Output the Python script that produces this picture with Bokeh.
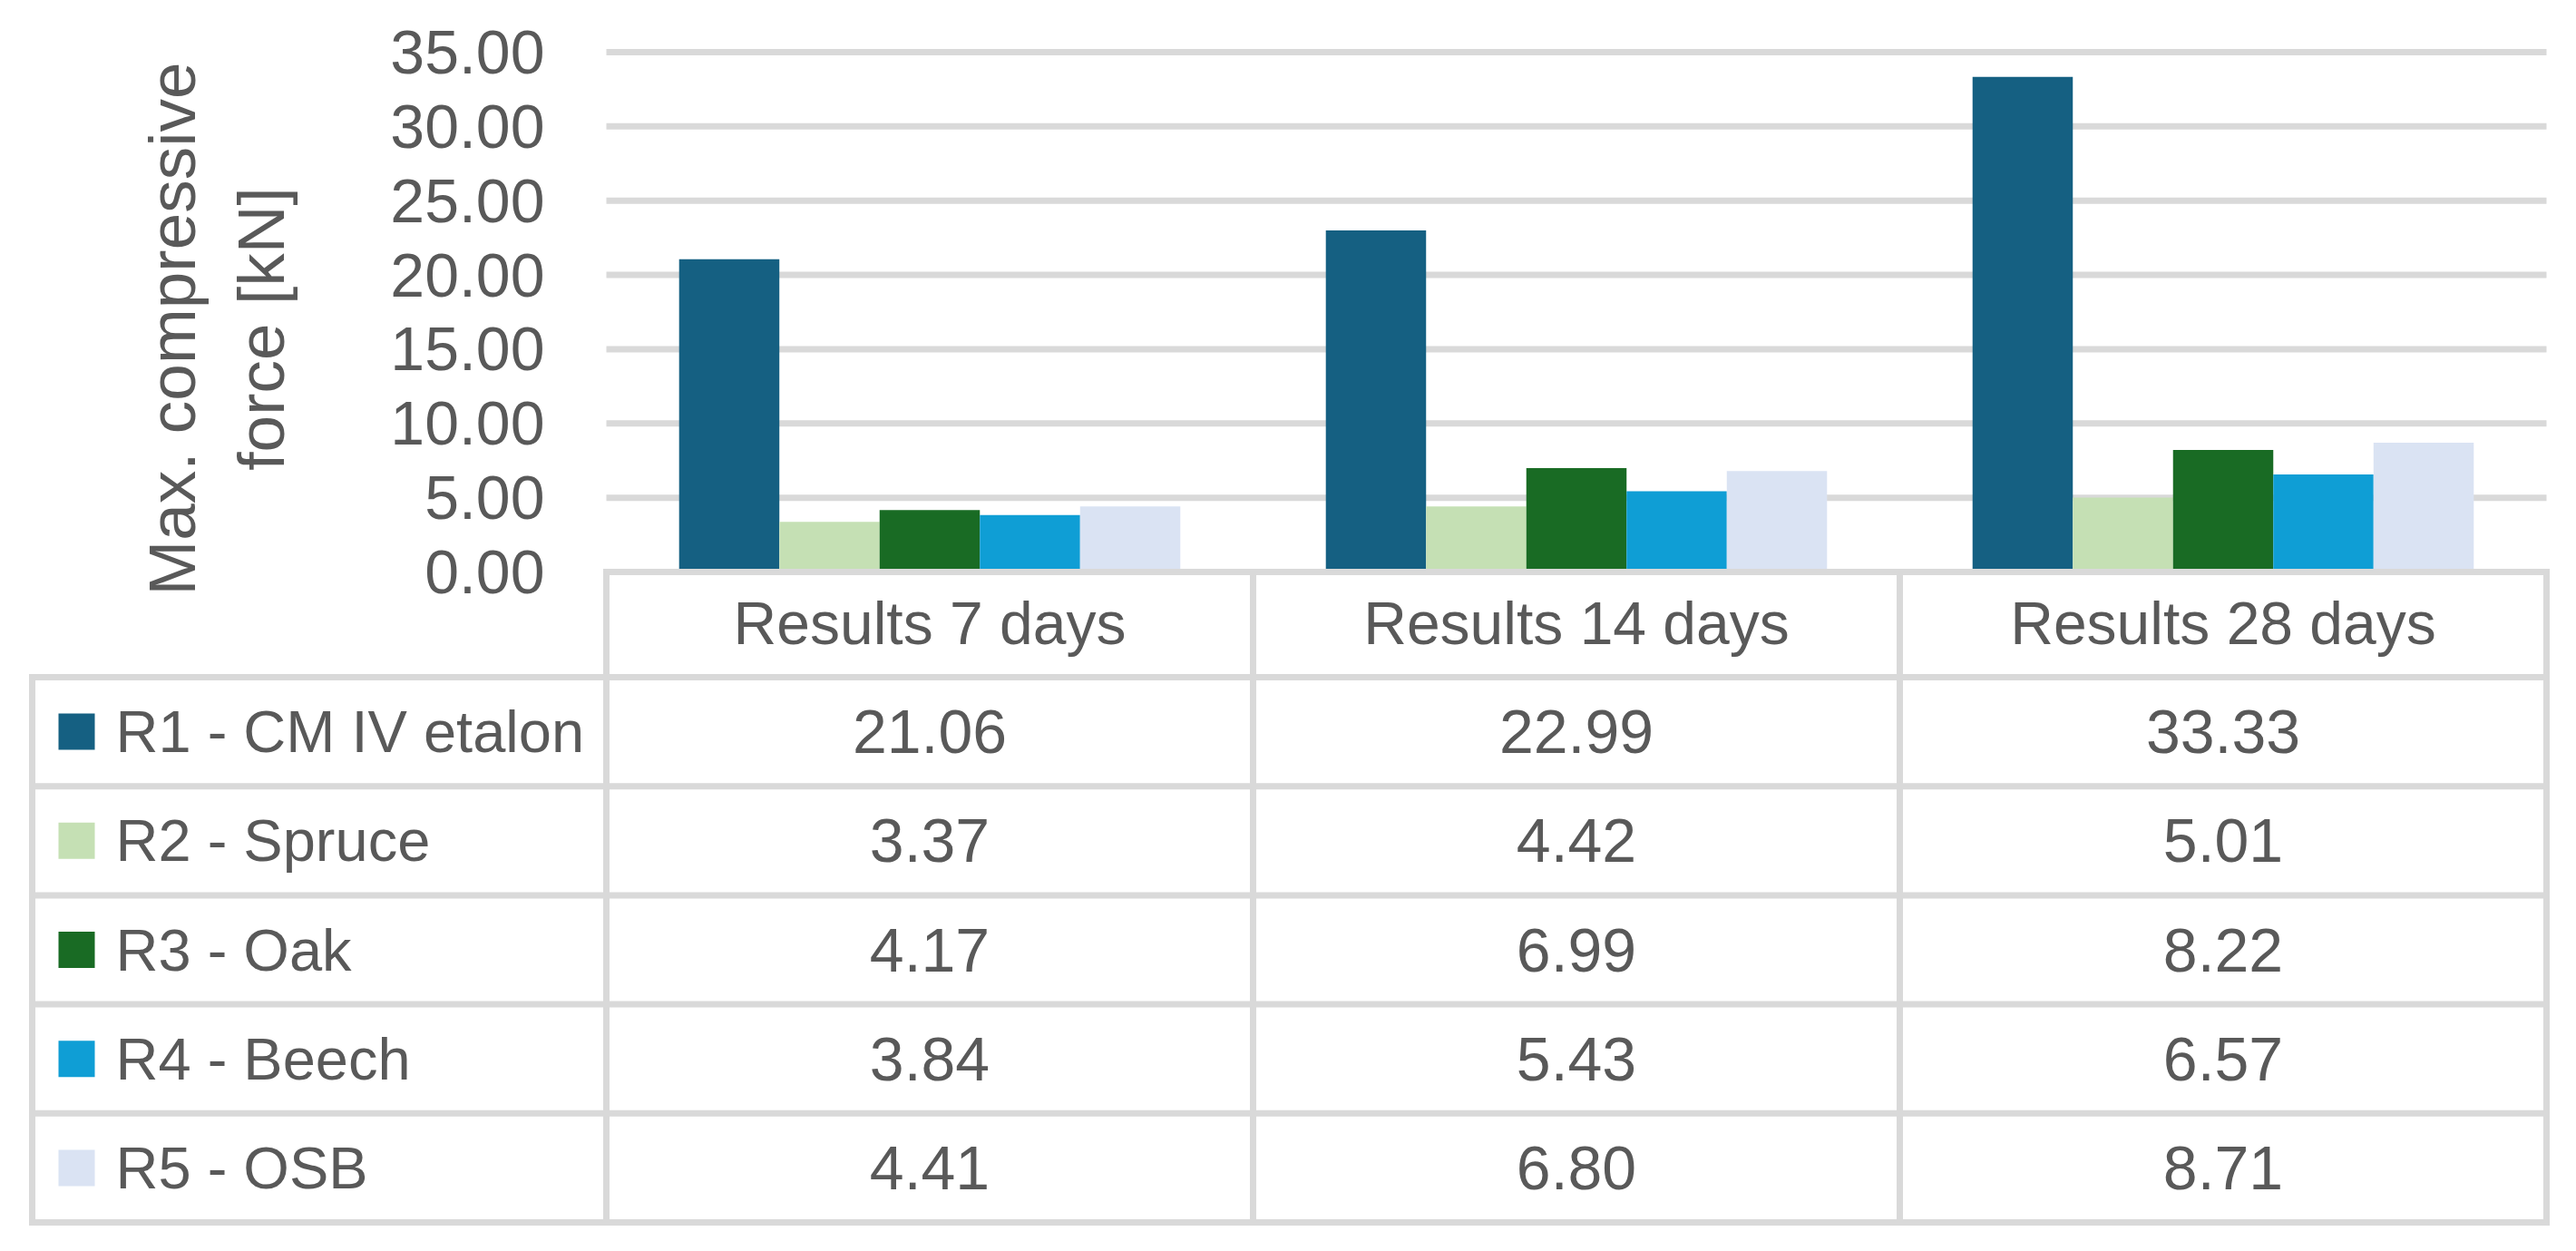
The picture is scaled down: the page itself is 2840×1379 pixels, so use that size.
from bokeh.plotting import figure
from bokeh.models import Range1d, FixedTicker, PrintfTickFormatter, LinearAxis
from bokeh.core.properties import value
from bokeh.embed import file_html
from bokeh.resources import INLINE

# ---------------- data ----------------
categories = ["Results 7 days", "Results 14 days", "Results 28 days"]
series_names = ["R1 -  CM IV etalon", "R2 - Spruce", "R3 - Oak", "R4 - Beech", "R5 - OSB"]
r1_etalon = [21.06, 22.99, 33.33]
r2_spruce = [3.37, 4.42, 5.01]
r3_oak = [4.17, 6.99, 8.22]
r4_beech = [3.84, 5.43, 6.57]
r5_osb = [4.41, 6.80, 8.71]
y_ticks = [0, 5, 10, 15, 20, 25, 30, 35]
y_label = "Max. compressive\nforce [kN]"

series_values = [r1_etalon, r2_spruce, r3_oak, r4_beech, r5_osb]

# ---------------- style / layout (page pixels) ----------------
colors = ["#156082", "#C5E0B4", "#196B24", "#0F9ED5", "#DAE3F3"]
TEXT = "#595959"
GRID = "#D9D9D9"
FONT = value("Liberation Sans")
FS_NUM = "68px"
FS_TXT = "66px"
LW = 7

W, H = 2836, 1370
F_L, F_R, F_T, F_B = 30, 2812, 0, 1352    # frame box
CHART_L, CHART_R = 668, 2807              # chart area x
Y_TOP, Y_ZERO = 57, 630                   # y of top tick and of zero
LABEL_CENTER_Y = 362                      # centre of the y-axis title
TABLE_LEFT = 35
HEADER_TOP, HEADER_BOT = 630, 746
ROW_H = 120.2
KEY_X, LABEL_X = 84, 127
BAR_W = 0.155

ncat = len(categories)
n = len(series_names)
CAT_W = (CHART_R - CHART_L) / ncat
PPU = (Y_ZERO - Y_TOP) / y_ticks[-1]


def ux(px):
    return (px - CHART_L) / CAT_W


def uy(px):
    return (Y_ZERO - px) / PPU


p = figure(
    width=W, height=H,
    x_range=Range1d(ux(F_L), ux(F_R)),
    y_range=Range1d(uy(F_B), uy(F_T)),
    x_axis_location=None, y_axis_location=None,
    output_backend="svg", toolbar_location=None,
    min_border_left=F_L, min_border_right=W - F_R,
    min_border_top=F_T, min_border_bottom=H - F_B,
)
p.outline_line_color = None
p.grid.visible = False

# axis bounds chosen so that the title is centred where the reference has it
b_lo = 2 * uy(LABEL_CENTER_Y) - y_ticks[-1]
ax = LinearAxis(fixed_location=0, bounds=(b_lo, y_ticks[-1]))
ax.ticker = FixedTicker(ticks=y_ticks)
ax.formatter = PrintfTickFormatter(format="%.2f")
ax.axis_line_color = None
ax.major_tick_line_color = None
ax.minor_tick_line_color = None
ax.major_label_standoff = 62
ax.major_label_text_font = "Liberation Sans"
ax.major_label_text_font_size = FS_NUM
ax.major_label_text_color = TEXT
ax.axis_label = y_label
ax.axis_label_text_font = "Liberation Sans"
ax.axis_label_text_font_size = "73px"
ax.axis_label_text_font_style = "normal"
ax.axis_label_text_color = TEXT
ax.axis_label_standoff = 99
ax.axis_label_text_line_height = 1.22
p.add_layout(ax, "left")

# gridlines (behind bars)
g = y_ticks[1:]
p.segment(x0=[0] * len(g), y0=g, x1=[ncat] * len(g), y1=g, line_color=GRID, line_width=LW)

# bars
for i, (vals, col) in enumerate(zip(series_values, colors)):
    off = (i - (n - 1) / 2) * BAR_W
    p.vbar(x=[k + 0.5 + off for k in range(ncat)], top=vals, bottom=0, width=BAR_W,
           fill_color=col, line_color=None)

# zero line (over bars)
p.segment(x0=[0], y0=[y_ticks[0]], x1=[ncat], y1=[y_ticks[0]], line_color=GRID,
          line_width=LW, line_cap="square")

# ---------------- data table ----------------
rows_px = [HEADER_BOT + k * ROW_H for k in range(n + 1)]
rows_y = [uy(r) for r in rows_px]
x_left = ux(TABLE_LEFT)
p.segment(x0=[x_left] * len(rows_y), y0=rows_y, x1=[ncat] * len(rows_y), y1=rows_y,
          line_color=GRID, line_width=LW, line_cap="square")
vx = [x_left] + list(range(ncat + 1))
vy0 = [uy(HEADER_BOT)] + [uy(HEADER_TOP)] * (ncat + 1)
p.segment(x0=vx, y0=vy0, x1=vx, y1=[rows_y[-1]] * len(vx),
          line_color=GRID, line_width=LW, line_cap="square")

# header
p.text(x=[i + 0.5 for i in range(ncat)], y=[uy((HEADER_TOP + HEADER_BOT) / 2 - 2)] * ncat,
       text=categories, text_align="center", text_baseline="middle",
       text_font=FONT, text_font_size=FS_TXT, text_color=TEXT)

# values
row_c = [uy(HEADER_BOT + (j + 0.5) * ROW_H) for j in range(n)]
xs, ys, txt = [], [], []
for j, vals in enumerate(series_values):
    for i, v in enumerate(vals):
        xs.append(i + 0.5)
        ys.append(row_c[j])
        txt.append(f"{v:.2f}")
p.text(x=xs, y=ys, text=txt, text_align="center", text_baseline="middle",
       text_font=FONT, text_font_size=FS_NUM, text_color=TEXT)

# legend keys + labels
p.scatter(x=[ux(KEY_X)] * n, y=row_c, marker="square", size=40,
          fill_color=colors, line_color=None)
p.text(x=[ux(LABEL_X)] * n, y=row_c, text=series_names, text_align="left",
       text_baseline="middle", text_font=FONT, text_font_size="65px", text_color=TEXT)

open("out.html", "w").write(file_html(p, INLINE))
